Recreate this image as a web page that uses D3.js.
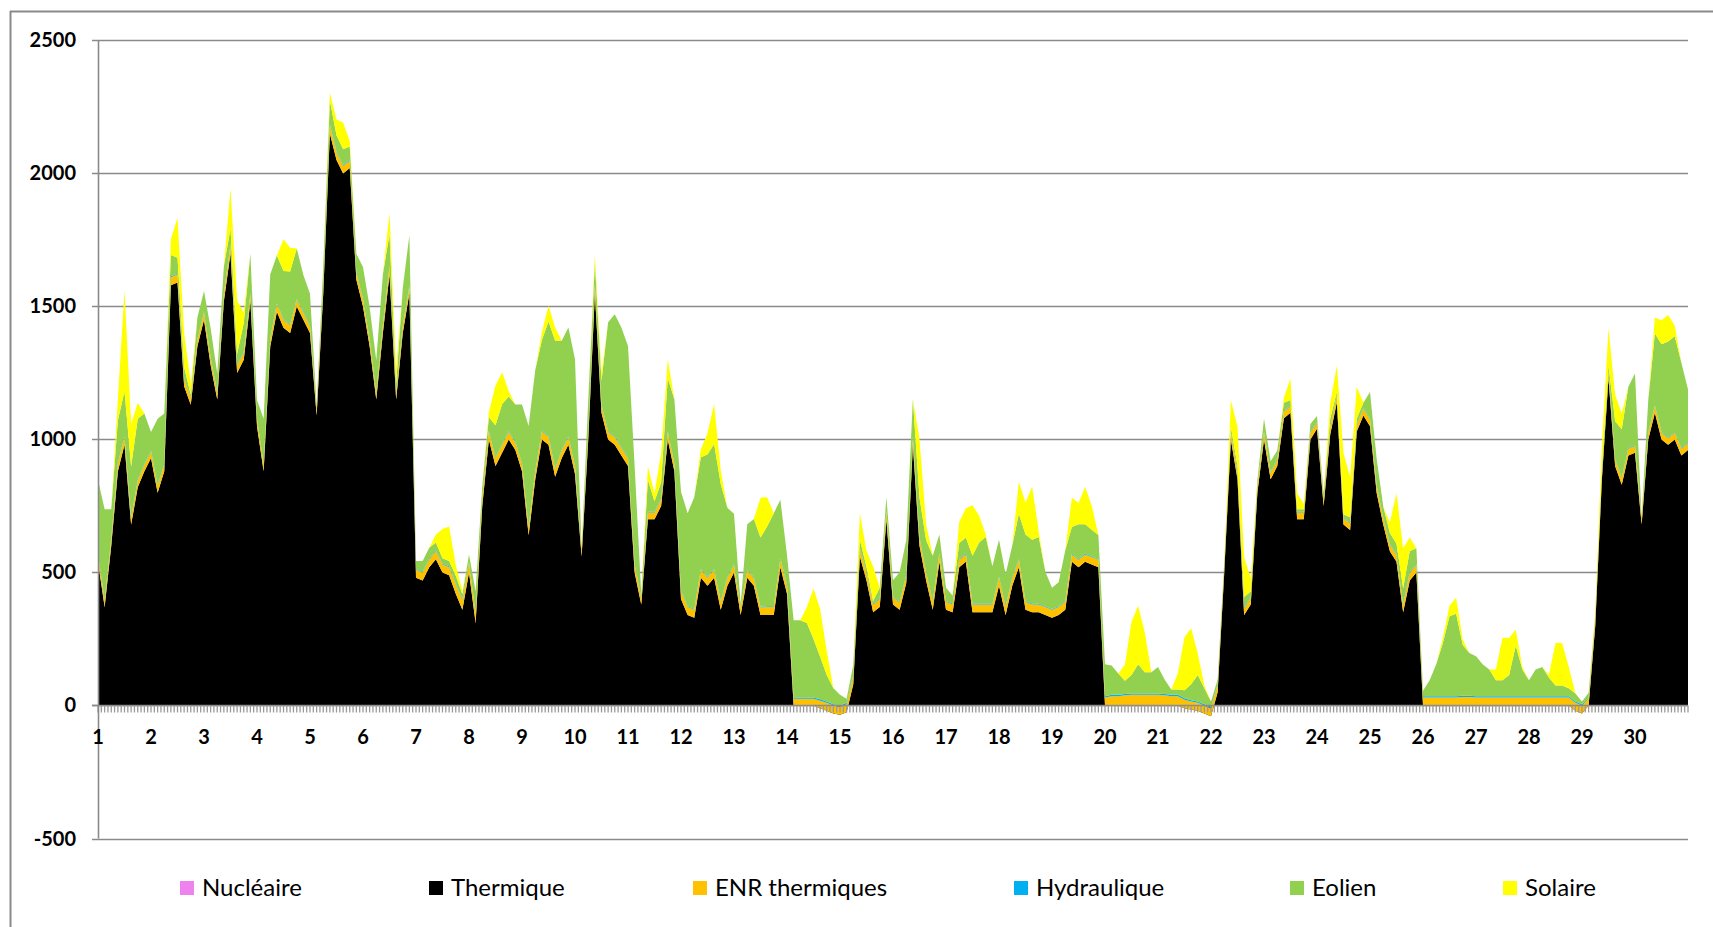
<!DOCTYPE html>
<html><head><meta charset="utf-8">
<script src="https://cdn.jsdelivr.net/npm/d3@7"></script>
<style>body{margin:0;background:#fff;} svg{display:block;}</style>
</head><body>
<svg id="chart" width="1713" height="927"></svg>
<script>
// ---- Data (3-hour samples, 8 per day, days 1..30, plus closing point) ----
const dayLabels = ["1","2","3","4","5","6","7","8","9","10","11","12","13","14","15","16","17","18","19","20","21","22","23","24","25","26","27","28","29","30"];
const yTickValues = [-500, 0, 500, 1000, 1500, 2000, 2500];
const seriesNames = ["Nucléaire","Thermique","ENR thermiques","Hydraulique","Eolien","Solaire"];

const nucleaire = [
0,0,0,0,0,0,0,0, 0,0,0,0,0,0,0,0, 0,0,0,0,0,0,0,0, 0,0,0,0,0,0,0,0, 0,0,0,0,0,0,0,0,
0,0,0,0,0,0,0,0, 0,0,0,0,0,0,0,0, 0,0,0,0,0,0,0,0, 0,0,0,0,0,0,0,0, 0,0,0,0,0,0,0,0,
0,0,0,0,0,0,0,0, 0,0,0,0,0,0,0,0, 0,0,0,0,0,0,0,0, 0,0,0,0,0,0,0,0, 0,0,0,0,0,0,0,0,
0,0,0,0,0,0,0,0, 0,0,0,0,0,0,0,0, 0,0,0,0,0,0,0,0, 0,0,0,0,0,0,0,0, 0,0,0,0,0,0,0,0,
0,0,0,0,0,0,0,0, 0,0,0,0,0,0,0,0, 0,0,0,0,0,0,0,0, 0,0,0,0,0,0,0,0, 0,0,0,0,0,0,0,0,
0,0,0,0,0,0,0,0, 0,0,0,0,0,0,0,0, 0,0,0,0,0,0,0,0, 0,0,0,0,0,0,0,0, 0,0,0,0,0,0,0,0,
0];

const thermique = [
540,370,600,880,980,680,820,880,
930,800,880,1580,1590,1200,1130,1350,
1450,1280,1150,1520,1700,1250,1300,1520,
1050,880,1350,1480,1420,1400,1500,1450,
1400,1090,1550,2150,2050,2000,2020,1600,
1500,1350,1150,1400,1620,1150,1400,1550,
480,470,520,550,500,490,420,360,
500,310,750,1000,900,950,1000,960,
880,640,850,1000,980,860,930,980,
870,560,1000,1550,1100,1000,980,940,
900,500,380,700,700,750,1000,880,
400,340,330,480,450,480,360,450,
500,340,480,450,340,340,340,520,
420,0,0,0,0,-10,-20,-30,
-35,-25,80,560,470,350,370,700,
380,360,460,980,600,470,360,540,
360,350,520,540,350,350,350,350,
450,340,450,520,360,350,350,340,
330,340,360,540,520,540,530,520,
0,0,0,0,0,0,0,0,
0,0,0,0,-10,-15,-20,-30,
-40,50,500,1000,850,340,380,800,
1000,850,900,1080,1100,700,700,1000,
1040,750,1020,1140,680,660,1030,1090,
1050,800,680,580,540,350,470,500,
0,0,0,0,0,0,0,0,
0,0,0,0,0,0,0,0,
0,0,0,0,0,0,0,-20,
-30,0,300,850,1230,900,830,940,
950,680,1000,1100,1000,980,1000,940,
960];

const enrThermiques = [
25,25,25,28,28,25,25,25,
25,25,25,30,30,28,25,25,
25,25,25,28,30,28,25,25,
25,25,28,28,30,28,25,25,
25,25,28,30,30,28,28,25,
25,25,25,28,28,25,25,25,
30,30,30,30,30,30,35,35,
35,35,30,30,30,30,28,28,
28,28,28,30,30,28,28,28,
28,25,28,30,28,28,28,28,
28,28,25,25,25,25,28,28,
30,30,30,30,30,30,30,30,
28,28,28,28,28,30,30,30,
30,25,25,25,25,28,30,30,
30,30,28,28,28,30,30,30,
28,28,28,28,28,28,30,30,
30,30,28,28,30,30,30,30,
30,30,28,28,30,30,30,30,
30,30,30,28,28,28,28,28,
30,35,35,38,40,40,40,40,
40,38,35,35,32,30,30,30,
30,25,25,25,25,25,25,25,
25,25,25,25,25,25,25,25,
25,25,25,25,25,25,25,25,
25,25,25,25,25,28,28,28,
30,30,30,30,30,30,32,32,
30,30,30,30,30,30,30,30,
30,30,30,30,30,30,30,30,
30,25,25,25,25,25,25,25,
25,25,25,25,25,25,25,25,
25];

const hydraulique = [
3,3,3,3,3,3,3,3, 3,3,3,3,3,3,3,3, 3,3,3,3,3,3,3,3, 3,3,3,3,3,3,3,3, 3,3,3,3,3,3,3,3,
3,3,3,3,3,3,3,3, 3,3,3,3,3,3,3,3, 3,3,3,3,3,3,3,3, 3,3,3,3,3,3,3,3, 3,3,3,3,3,3,3,3,
3,3,3,3,3,3,3,3, 3,3,3,3,3,3,3,3, 3,3,3,3,3,3,3,3, 5,5,5,5,5,5,5,5, 5,5,5,5,3,3,3,3,
3,3,3,3,3,3,3,3, 3,3,3,3,3,3,3,3, 3,3,3,3,3,3,3,3, 3,3,3,3,3,3,3,3, 5,5,5,5,5,5,5,5,
5,5,5,5,5,5,5,5, 5,3,3,3,3,3,3,3, 3,3,3,3,3,3,3,3, 3,3,3,3,3,3,3,3, 3,3,3,3,3,3,3,3,
5,5,5,5,5,5,5,5, 5,5,5,5,5,5,5,5, 5,5,5,5,5,5,5,5, 5,3,3,3,3,3,3,3, 3,3,3,3,3,3,3,3,
3];

const eolien = [
280,340,110,160,170,190,230,190,
70,250,190,80,60,40,10,80,
80,110,70,100,60,40,110,150,
70,170,240,180,180,200,190,140,
120,10,70,90,60,60,50,70,
120,120,120,190,120,30,140,190,
30,40,40,30,20,20,30,20,
30,80,40,50,120,150,130,140,
220,380,380,340,430,480,410,410,
400,0,120,80,90,410,460,450,
420,370,10,120,40,60,200,240,
370,350,420,420,460,470,440,260,
190,10,170,220,260,300,350,220,
110,290,290,280,220,160,100,60,
40,15,40,30,20,10,40,50,
60,110,130,140,150,120,170,70,
50,30,60,60,180,230,250,140,
140,120,120,170,250,240,250,130,
80,90,190,100,130,110,100,90,
120,110,80,50,70,110,80,80,
100,55,20,20,30,60,100,60,
20,20,10,20,20,40,20,20,
50,40,30,30,20,10,10,30,
20,20,30,10,10,20,20,20,
100,100,40,40,40,60,80,60,
20,60,120,200,300,310,190,160,
150,120,100,60,60,80,190,100,
60,100,110,70,40,40,30,30,
10,20,10,20,20,140,180,230,
270,0,120,270,330,360,360,320,
200];

const solaire = [
0,0,0,80,380,160,60,0,
0,0,0,60,150,130,40,0,
0,0,0,0,150,200,40,0,
0,0,0,0,120,90,0,0,
0,0,0,30,60,100,20,0,
0,0,0,0,80,60,0,0,
0,0,0,30,110,130,40,10,
0,0,0,20,150,120,20,0,
0,0,0,30,60,50,0,0,
0,0,0,30,30,0,0,0,
0,0,0,50,30,110,70,0,
0,0,0,30,80,150,50,0,
0,0,0,0,150,110,0,0,
0,0,0,60,190,180,90,0,
0,0,0,100,60,130,0,0,
0,0,0,0,220,60,0,0,
0,0,80,110,190,100,10,0,
0,0,0,120,120,200,20,0,
0,0,0,110,80,140,90,0,
0,0,0,60,200,220,150,0,
0,0,0,60,200,210,80,10,
0,0,0,100,150,150,50,0,
0,0,0,20,80,60,20,0,
0,0,60,100,230,150,120,0,
0,0,0,40,190,150,50,0,
0,0,0,20,40,60,20,0,
0,0,0,40,160,140,60,10,
0,0,0,10,160,160,80,0,
0,0,10,80,140,100,60,0,
0,0,0,60,90,100,40,0,
0];

// ---- Styling / layout ----
const colors = ["#EE82EE", "#000000", "#FFC000", "#00B0F0", "#92D050", "#FFFF00"];
const samplesPerDay = 8;
const W = 1713, H = 927;
const plot = { left: 98, right: 1688, top: 40.4, bottom: 838.5 };
const gridColor = "#8a8a8a";

const svg = d3.select("#chart");

const keys = ["nucleaire","thermique","enr","hydro","eolien","solaire"];
const rows = thermique.map((_, i) => ({
  i,
  nucleaire: nucleaire[i], thermique: thermique[i], enr: enrThermiques[i],
  hydro: hydraulique[i], eolien: eolien[i], solaire: solaire[i]
}));

const nSteps = thermique.length - 1;
const x = d3.scaleLinear().domain([0, nSteps]).range([plot.left, plot.right]);
const y = d3.scaleLinear().domain([-500, 2500]).range([plot.bottom, plot.top]);

// outer frame (chart area border)
svg.append("line").attr("x1", 10.5).attr("x2", 10.5).attr("y1", 11).attr("y2", H)
  .attr("stroke", gridColor).attr("stroke-width", 2);
svg.append("line").attr("x1", 10).attr("x2", W).attr("y1", 11.5).attr("y2", 11.5)
  .attr("stroke", gridColor).attr("stroke-width", 2);

// gridlines
svg.append("g").selectAll("line").data(yTickValues).join("line")
  .attr("x1", plot.left - 6).attr("x2", plot.right)
  .attr("y1", d => Math.round(y(d)) + 0.5).attr("y2", d => Math.round(y(d)) + 0.5)
  .attr("stroke", gridColor).attr("stroke-width", 1.6);

// stacked areas
const stack = d3.stack().keys(keys).order(d3.stackOrderNone).offset(d3.stackOffsetNone);
const series = stack(rows);
const area = d3.area()
  .x(d => x(d.data.i))
  .y0(d => y(d[0]))
  .y1(d => y(d[1]));
svg.append("g").selectAll("path").data(series).join("path")
  .attr("d", area)
  .attr("fill", (d, k) => colors[k]);

// x axis line and minor ticks
const y0 = Math.round(y(0)) + 0.5;
svg.append("line").attr("x1", plot.left - 6).attr("x2", plot.right)
  .attr("y1", y0).attr("y2", y0).attr("stroke", gridColor).attr("stroke-width", 1.6);
const minorTicks = d3.range(0, nSteps + 0.001, samplesPerDay / 16);
svg.append("g").selectAll("line").data(minorTicks).join("line")
  .attr("x1", d => x(d)).attr("x2", d => x(d))
  .attr("y1", y0).attr("y2", y0 + 7)
  .attr("stroke", "#9a9a9a").attr("stroke-width", 1.3);

// y axis line
svg.append("line").attr("x1", plot.left + 0.5).attr("x2", plot.left + 0.5)
  .attr("y1", plot.top).attr("y2", plot.bottom)
  .attr("stroke", gridColor).attr("stroke-width", 1.6);

// y labels
svg.append("g").selectAll("text").data(yTickValues).join("text")
  .attr("x", 76).attr("y", d => y(d)).attr("dy", "0.35em")
  .attr("text-anchor", "end")
  .attr("font-family", "Lato, 'Liberation Sans', sans-serif")
  .attr("font-weight", "bold").attr("font-size", 20).attr("fill", "#000")
  .text(d => d);

// x labels (day numbers at day boundaries)
svg.append("g").selectAll("text").data(dayLabels).join("text")
  .attr("x", (d, k) => x(k * samplesPerDay)).attr("y", 744)
  .attr("text-anchor", "middle")
  .attr("font-family", "Lato, 'Liberation Sans', sans-serif")
  .attr("font-weight", "bold").attr("font-size", 20).attr("fill", "#000")
  .text(d => d);

// legend
const legendX = [180, 429, 693, 1014, 1290, 1503];
const lg = svg.append("g").selectAll("g").data(seriesNames).join("g")
  .attr("transform", (d, k) => `translate(${legendX[k]},888)`);
lg.append("rect").attr("x", 0).attr("y", -7).attr("width", 14).attr("height", 14)
  .attr("fill", (d, k) => colors[k]);
lg.append("text").attr("x", 22).attr("y", 0).attr("dy", "0.35em")
  .attr("font-family", "Lato, 'Liberation Sans', sans-serif")
  .attr("font-size", 24).attr("fill", "#000")
  .text(d => d);
</script>
</body></html>
